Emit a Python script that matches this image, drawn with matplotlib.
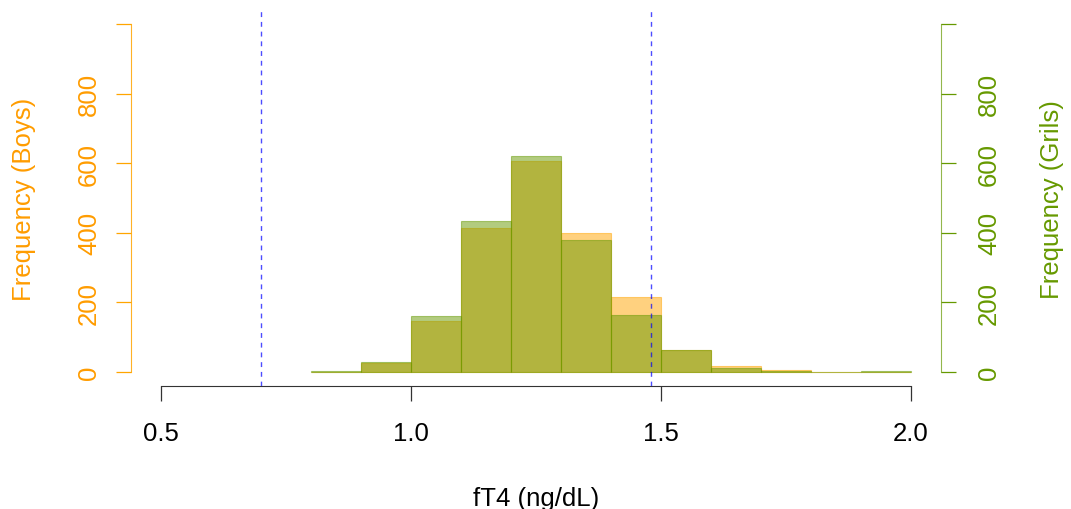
import matplotlib
matplotlib.use("Agg")
import matplotlib.pyplot as plt

plt.rcParams['font.family'] = ['Liberation Sans', 'DejaVu Sans']

# ---- data ----
bin_left = [0.8, 0.9, 1.0, 1.1, 1.2, 1.3, 1.4, 1.5, 1.6, 1.7, 1.8, 1.9]
bin_width = 0.1
boys = [1, 25, 146, 415, 607, 400, 215, 63, 17, 5, 0, 1]
girls = [2, 28, 162, 434, 620, 380, 164, 62, 12, 2, 1, 2]
ref_lines = [0.70, 1.48]
x_ticks = [0.5, 1.0, 1.5, 2.0]
x_ticklabels = ["0.5", "1.0", "1.5", "2.0"]
y_ticks = [0, 200, 400, 600, 800, 1000]
y_ticklabels = ["0", "200", "400", "600", "800", ""]

ORANGE = "#FFA500"
ORANGE_TXT = "#FF9C00"
GREEN = "#669900"
FS = 18.5

W, H = 1071, 510
fig = plt.figure(figsize=(W / 100, H / 100), dpi=100)
ax = fig.add_axes([131 / W, (H - 387) / H, 810 / W, 376 / H])

ax.bar(bin_left, boys, width=bin_width, align='edge', color=ORANGE,
       edgecolor=ORANGE, alpha=0.5, linewidth=0.8, zorder=2)
ax.bar(bin_left, girls, width=bin_width, align='edge', color=GREEN,
       edgecolor=GREEN, alpha=0.5, linewidth=0.8, zorder=3)

for xv in ref_lines:
    ax.axvline(xv, color='blue', alpha=0.7, lw=1.0,
               linestyle=(0, (3.5, 3.5)), zorder=4)

ax.set_xlim(0.44, 2.06)
ax.set_ylim(-40, 1040)

# x axis
ax.spines['top'].set_visible(False)
ax.spines['right'].set_visible(False)
ax.spines['bottom'].set_bounds(0.5, 2.0)
ax.spines['bottom'].set_color('#333333')
ax.set_xticks(x_ticks)
ax.set_xticklabels(x_ticklabels)
ax.tick_params(axis='x', length=11, width=0.9, color='#333333',
               labelsize=FS, pad=14, labelcolor='black')

# left axis (boys)
ax.spines['left'].set_bounds(0, 1000)
ax.spines['left'].set_color(ORANGE)
ax.spines['left'].set_alpha(0.85)
ax.set_yticks(y_ticks)
ax.set_yticklabels(y_ticklabels)
ax.tick_params(axis='y', length=11, width=0.9, color=ORANGE,
               labelsize=FS, pad=10.5, labelcolor=ORANGE_TXT)
for lab in ax.get_yticklabels():
    lab.set_rotation(90)
    lab.set_va('center')
    lab.set_ha('right')

# right axis (girls)
ax2 = ax.twinx()
ax2.set_ylim(-40, 1040)
for s in ['top', 'left', 'bottom']:
    ax2.spines[s].set_visible(False)
ax2.spines['right'].set_bounds(0, 1000)
ax2.spines['right'].set_color(GREEN)
ax2.spines['right'].set_alpha(0.7)
ax2.set_yticks(y_ticks)
ax2.set_yticklabels(y_ticklabels)
ax2.tick_params(axis='y', length=11, width=0.9, color=GREEN,
                labelsize=FS, pad=15, labelcolor=GREEN)
for lab in ax2.get_yticklabels():
    lab.set_rotation(90)
    lab.set_va('center')
    lab.set_ha('left')

# labels
fig.text(536 / W, 1 - 506 / H, "fT4 (ng/dL)", ha='center', va='baseline',
         fontsize=FS, color='black')
fig.text(31 / W, 1 - 199 / H, "Frequency (Boys)", ha='center', va='baseline',
         rotation=90, rotation_mode='anchor', fontsize=FS, color=ORANGE_TXT)
fig.text(1059 / W, 1 - 200 / H, "Frequency (Grils)", ha='center', va='baseline',
         rotation=90, rotation_mode='anchor', fontsize=FS, color=GREEN)

fig.savefig("out.png", dpi=100)
